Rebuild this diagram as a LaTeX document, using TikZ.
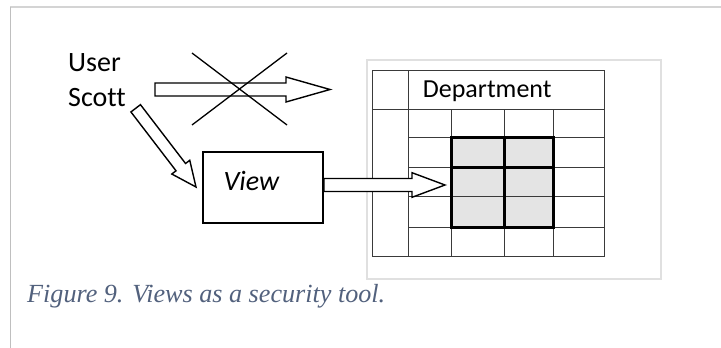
\documentclass[tikz,border=0pt]{standalone}
\usepackage{fontspec}
\setmainfont{Carlito}[Ligatures=NoCommon]
\newfontfamily\capfont{Liberation Serif}
\usetikzlibrary{calc}
\definecolor{capblue}{HTML}{52617D}
\definecolor{cellgray}{HTML}{E4E4E4}
\definecolor{gridline}{HTML}{3A3A3A}
% hollow block arrow: start, end, shaft half-width, head half-width, head length
\newcommand\blockarrow[5]{%
  \coordinate (hb) at ($(#2)!#5!(#1)$);
  \draw[blockarr] ($(#1)!#3!90:(#2)$) -- ($(hb)!#3!90:(#2)$) -- ($(hb)!#4!90:(#2)$)
    -- (#2) -- ($(hb)!#4!-90:(#2)$) -- ($(hb)!#3!-90:(#2)$) -- ($(#1)!#3!-90:(#2)$) -- cycle;
}
\begin{document}
\begin{tikzpicture}[x=1pt,y=-1pt,
  blockarr/.style={draw=black,fill=white,line width=1.4pt,line join=miter},
  label/.style={inner sep=0pt,anchor=base west,font=\fontsize{28}{30}\selectfont},
  grid/.style={draw=gridline,line width=1pt},
  thickgrid/.style={draw=black,line width=3pt}]
\useasboundingbox[fill=white] (0,0) rectangle (721,348);

% page frame
\draw[draw=black!17,line width=1.6pt] (10,7) -- (721,7);
\draw[draw=black!25,line width=1.8pt] (10.5,7) -- (10.5,348);

% frame around the table
\draw[draw=black!12,line width=1.5pt] (367,60) rectangle (661,279);

% table
\fill[cellgray] (451,137) rectangle (553,227);
\draw[grid] (372,109) -- (604,109);
\foreach \y in {137,167,196,227} \draw[grid] (408,\y) -- (604,\y);
\draw[grid] (408,70) -- (408,256);
\foreach \x in {451,504,553} \draw[grid] (\x,109) -- (\x,256);
\draw[grid] (372,70) rectangle (604,256);
\draw[thickgrid] (451,137) rectangle (553,227);
\draw[thickgrid] (504,137) -- (504,227);
\draw[thickgrid] (451,167) -- (553,167);
\node[label,font=\fontsize{26}{28}\selectfont] (dept) at (422.7,97.3) {Department};

% user
\node[label] (user) at (68,71) {User};
\node[label] (scott) at (68,106) {Scott};

% view box
\node[draw=black,line width=2pt,minimum width=120pt,minimum height=71pt,inner sep=0pt] (view) at (263,187.5) {};
\node[label,font=\fontsize{28}{30}\selectfont\itshape] (viewtxt) at (223.3,190) {View};

% connectors
\coordinate (d1s) at (155,89.5);
\coordinate (d1e) at (330,89.5);
\blockarrow{d1s}{d1e}{6.5pt}{12.5pt}{44pt}
\draw[line width=1.3pt] (192,53) coordinate (xa) -- (287,125) coordinate (xb);
\draw[line width=1.3pt] (287,53) coordinate (xc) -- (192,125) coordinate (xd);

\coordinate (d2s) at (135.7,108.3);
\coordinate (d2e) at (196,187);
\blockarrow{d2s}{d2e}{6pt}{11.3pt}{25pt}

\coordinate (d3s) at ($(view.east)+(0,-2.5)$);
\coordinate (d3e) at (445,185);
\blockarrow{d3s}{d3e}{6.5pt}{12.3pt}{33pt}

% caption
\node[inner sep=0pt,anchor=base west,text=capblue] (cap) at (27,302)
  {\resizebox{358pt}{!}{\capfont\itshape Figure 9. Views as a security tool.}};
\end{tikzpicture}
\end{document}
